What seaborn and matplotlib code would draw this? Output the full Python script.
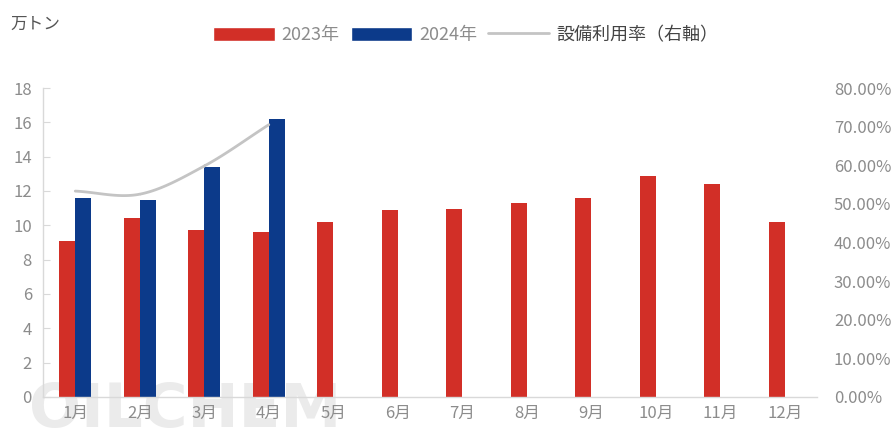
import matplotlib
matplotlib.use("Agg")
import matplotlib.pyplot as plt
import seaborn as sns
import numpy as np
import pandas as pd
from matplotlib.patches import Patch
from matplotlib.lines import Line2D

# データ
months = ["1月", "2月", "3月", "4月", "5月", "6月", "7月", "8月", "9月", "10月", "11月", "12月"]
val_2023 = [9.1, 10.4, 9.7, 9.6, 10.2, 10.9, 10.95, 11.3, 11.6, 12.9, 12.4, 10.2]
val_2024 = [11.6, 11.5, 13.4, 16.2]
util_2024 = [53.3, 52.5, 59.8, 70.5]  # 設備利用率 %

RED = "#d22f27"
BLUE = "#0c3a8a"
GRAY_LINE = "#c4c4c4"
TXT = "#8c8c8c"

sns.set_style("white")
plt.rcParams["font.family"] = ["Noto Sans CJK JP", "DejaVu Sans"]

df = pd.DataFrame({
    "月": months * 2,
    "年": ["2023年"] * 12 + ["2024年"] * 12,
    "値": val_2023 + val_2024 + [np.nan] * (12 - len(val_2024)),
})

fig = plt.figure(figsize=(8.96, 4.38), dpi=100)
ax = fig.add_axes([0.048, 0.094, 0.864, 0.705])
ax.patch.set_visible(False)

sns.barplot(data=df, x="月", y="値", hue="年", order=months,
            palette={"2023年": RED, "2024年": BLUE}, width=0.5,
            saturation=1, legend=False, linewidth=0, ax=ax)

# 透かし (棒の後ろ)
ax.text(-0.72, -1.75, "OILCHEM", fontsize=44, fontweight="bold", color="#ebebeb",
        family="DejaVu Sans", va="baseline", zorder=0.1, clip_on=False)

ax.set_xlim(-0.5, 11.5)
ax.set_ylim(0, 18)
ax.set_yticks(range(0, 19, 2))
ax.set_xlabel("")
ax.set_ylabel("")
for s in ["top", "right"]:
    ax.spines[s].set_visible(False)
for s in ["left", "bottom"]:
    ax.spines[s].set_color("#d9d9d9")
    ax.spines[s].set_linewidth(1.0)
ax.set_xticks(np.arange(-0.5, 12, 1), minor=True)
ax.tick_params(axis="x", which="major", length=0, labelsize=12, labelcolor=TXT, pad=6)
ax.tick_params(axis="x", which="minor", direction="in", length=8, color="#d9d9d9")
ax.tick_params(axis="y", direction="in", length=5, color="#d9d9d9",
               labelsize=12, labelcolor=TXT, pad=8)

# 右軸: 設備利用率
ax2 = ax.twinx()
ax2.set_ylim(0, 80)
ax2.set_yticks(range(0, 81, 10))
ax2.set_yticklabels([f"{v:.2f}%" for v in range(0, 81, 10)])
for s in ax2.spines.values():
    s.set_visible(False)
ax2.tick_params(axis="y", length=0, labelsize=12, labelcolor=TXT, pad=12)

# 滑らかな折れ線 (Catmull-Rom)
xs = np.arange(len(util_2024), dtype=float)
ys = np.array(util_2024, dtype=float)
px = np.concatenate([[2 * xs[0] - xs[1]], xs, [2 * xs[-1] - xs[-2]]])
py = np.concatenate([[2 * ys[0] - ys[1]], ys, [2 * ys[-1] - ys[-2]]])
cx, cy = [], []
t = np.linspace(0, 1, 30)
for i in range(1, len(px) - 2):
    for p, out in ((px, cx), (py, cy)):
        p0, p1, p2, p3 = p[i - 1], p[i], p[i + 1], p[i + 2]
        out.extend(0.5 * (2 * p1 + (-p0 + p2) * t + (2 * p0 - 5 * p1 + 4 * p2 - p3) * t ** 2
                          + (-p0 + 3 * p1 - 3 * p2 + p3) * t ** 3))
ax2.plot(cx, cy, color=GRAY_LINE, linewidth=2)

fig.text(0.012, 0.935, "万トン", fontsize=12, color="#555555")

handles = [Patch(facecolor=RED), Patch(facecolor=BLUE),
           Line2D([0], [0], color=GRAY_LINE, linewidth=2)]
labels = ["2023年", "2024年", "設備利用率（右軸）"]
leg = fig.legend(handles, labels, loc="center", bbox_to_anchor=(0.52, 0.92), ncol=3,
                 frameon=False, fontsize=13, handlelength=3.4, handleheight=0.8,
                 handletextpad=0.4, columnspacing=0.6)
for txt, c in zip(leg.get_texts(), [TXT, TXT, "#444444"]):
    txt.set_color(c)

fig.savefig("out.png", dpi=100)
